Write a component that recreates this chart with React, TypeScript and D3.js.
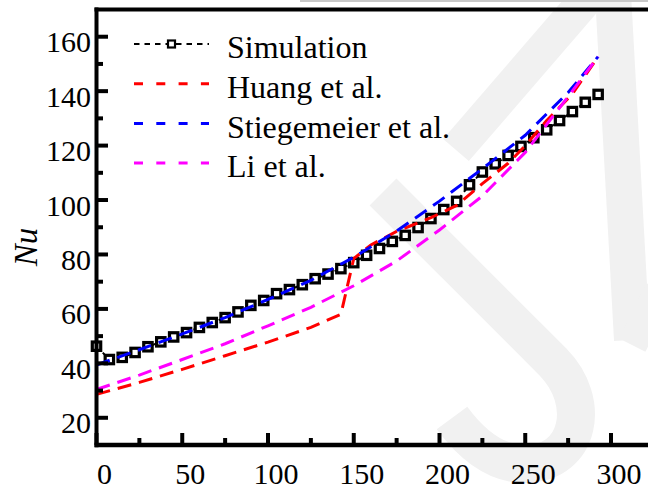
import React from 'react';
import * as d3 from 'd3';

// ---- data ----
const simX = [0, 7.5, 15, 22.5, 30, 37.5, 45, 52.5, 60, 67.5, 75, 82.5, 90, 97.5, 105, 112.5, 120, 127.5, 135, 142.5,
  150, 157.5, 165, 172.5, 180, 187.5, 195, 202.5, 210, 217.5, 225, 232.5, 240, 247.5, 255, 262.5, 270, 277.5, 285, 292.5];
const simNu = [46.3, 41.4, 42.2, 44.0, 46.1, 47.9, 49.7, 51.3, 53.2, 55.0, 56.8, 58.9, 61.3, 63.1, 65.6, 67.1, 68.9, 71.1, 72.8, 74.8,
  77.0, 79.7, 82.2, 84.8, 87.0, 89.9, 93.2, 96.5, 99.5, 105.6, 110.3, 113.3, 116.4, 119.7, 122.9, 125.8, 129.2, 132.5, 135.9, 138.8];

const huangX = [0, 25, 50, 75, 100, 125, 142.5, 150, 160, 175, 195, 210, 225, 240, 250, 262.5, 277.5, 292.5];
const huangNu = [28.6, 33, 37.8, 42.8, 47.8, 53.2, 58, 78.5, 83.5, 88.5, 93.5, 98, 106, 113.5, 120, 129.2, 139, 152.7];

const stieX = [0, 25, 50, 75, 100, 125, 150, 175, 200, 225, 250, 275, 292.5];
const stieNu = [39.4, 45, 50.8, 56.8, 63.5, 70.5, 79, 88.6, 99.6, 111.5, 123.8, 139.5, 152.7];

const liX = [0, 25, 50, 75, 100, 125, 150, 175, 200, 225, 250, 275, 292.5];
const liNu = [30.4, 35.7, 41.4, 47.2, 53.8, 60.6, 68.5, 77.6, 89, 101.5, 117.5, 138, 152.7];

const xTickValues = [0, 50, 100, 150, 200, 250, 300];
const xMinorTicks = [25, 75, 125, 175, 225, 275];
const yTickValues = [20, 40, 60, 80, 100, 120, 140, 160];
const yMinorTicks = [30, 50, 70, 90, 110, 130, 150];

const legendLabels = ['Simulation', 'Huang et al.', 'Stiegemeier et al.', 'Li et al.'];
const seriesColors = ['#000000', '#ff0000', '#0000ff', '#ff00ff'];

const FONT = "'Liberation Serif', 'Times New Roman', serif";

export default function App() {
  const W = 648, H = 492;
  const x = d3.scaleLinear().domain([0, 330]).range([96.5, 96.5 + 330 * 1.715]);
  const y = d3.scaleLinear().domain([10, 170]).range([445, 9.5]);

  const line = d3.line<[number, number]>().x(d => x(d[0])).y(d => y(d[1]));
  const zip = (a: number[], b: number[]) => a.map((v, i) => [v, b[i]] as [number, number]);

  const simPts = zip(simX, simNu);
  const others = [
    { pts: zip(huangX, huangNu), color: seriesColors[1] },
    { pts: zip(stieX, stieNu), color: seriesColors[2] },
    { pts: zip(liX, liNu), color: seriesColors[3] },
  ];

  const wm = '#f1f1f1';

  return (
    <svg width={W} height={H} style={{ position: 'absolute', left: 0, top: 0, background: '#fff' }}>
      <rect x={0} y={0} width={W} height={H} fill="#fff" />
      {/* watermark */}
      <g fill="none" stroke={wm} strokeLinecap="butt">
        <path d="M 607 -25 L 456 150" strokeWidth={34} />
        <path d="M 612 -25 L 632 340" strokeWidth={36} />
        <path d="M 632 345 L 660 290" strokeWidth={30} />
        <path d="M 383 192 L 553 362 C 592 402 580 462 527 464 C 497 465 472 445 452 418" strokeWidth={38} />
      </g>
      <line x1={300} x2={W} y1={1} y2={1} stroke="#c8c8c8" strokeWidth={2} />

      {/* simulation line + markers */}
      <path d={line(simPts) || ''} fill="none" stroke="#000" strokeWidth={2} strokeDasharray="5,4" />
      {simPts.map((p, i) => (
        <rect key={i} x={x(p[0]) - 4.2} y={y(p[1]) - 4.2} width={8.4} height={8.4} fill="#fff" stroke="#000" strokeWidth={3.2} />
      ))}
      {others.map((s, i) => (
        <path key={i} d={line(s.pts) || ''} fill="none" stroke={s.color} strokeWidth={3} strokeDasharray="14,8" />
      ))}

      {/* axes */}
      <g stroke="#000" strokeLinecap="butt">
        <line x1={96.5} x2={96.5} y1={7.5} y2={447.2} strokeWidth={4} />
        <line x1={94.5} x2={W} y1={9.5} y2={9.5} strokeWidth={4} />
        <line x1={94.5} x2={W} y1={445} y2={445} strokeWidth={4.5} />
        {xTickValues.map(v => (
          <line key={'xt' + v} x1={x(v)} x2={x(v)} y1={445} y2={433} strokeWidth={4} />
        ))}
        {xMinorTicks.map(v => (
          <line key={'xm' + v} x1={x(v)} x2={x(v)} y1={445} y2={438} strokeWidth={4} />
        ))}
        {yTickValues.map(v => (
          <line key={'yt' + v} x1={96.5} x2={108} y1={y(v)} y2={y(v)} strokeWidth={4} />
        ))}
        {yMinorTicks.map(v => (
          <line key={'ym' + v} x1={96.5} x2={103} y1={y(v)} y2={y(v)} strokeWidth={4} />
        ))}
      </g>
      <g fontFamily={FONT} fontSize={30} fill="#000">
        {xTickValues.map(v => (
          <text key={'xl' + v} x={x(v) + 8} y={484} textAnchor="middle">{v}</text>
        ))}
        {yTickValues.map(v => (
          <text key={'yl' + v} x={91} y={y(v) + 15.5} textAnchor="end">{v}</text>
        ))}
      </g>
      <text transform="translate(37,247) rotate(-90)" textAnchor="middle" fontFamily={FONT} fontStyle="italic" fontSize={33}>Nu</text>

      {/* legend */}
      {legendLabels.map((lab, i) => {
        const ly = 44 + i * 39.7;
        return (
          <g key={lab}>
            {i === 0 ? (
              <g>
                <line x1={134} x2={209} y1={ly} y2={ly} stroke="#000" strokeWidth={2} strokeDasharray="5.5,5" />
                <rect x={171.5 - 3.5} y={ly - 3.5} width={7} height={7} fill="#fff" stroke="#000" strokeWidth={2.2} />
              </g>
            ) : (
              <line x1={134} x2={209} y1={ly} y2={ly} stroke={seriesColors[i]} strokeWidth={3} strokeDasharray="9,13.3" />
            )}
            <text x={227} y={58.3 + i * 39.6} fontFamily={FONT} fontSize={32} fill="#000">{lab}</text>
          </g>
        );
      })}
    </svg>
  );
}
